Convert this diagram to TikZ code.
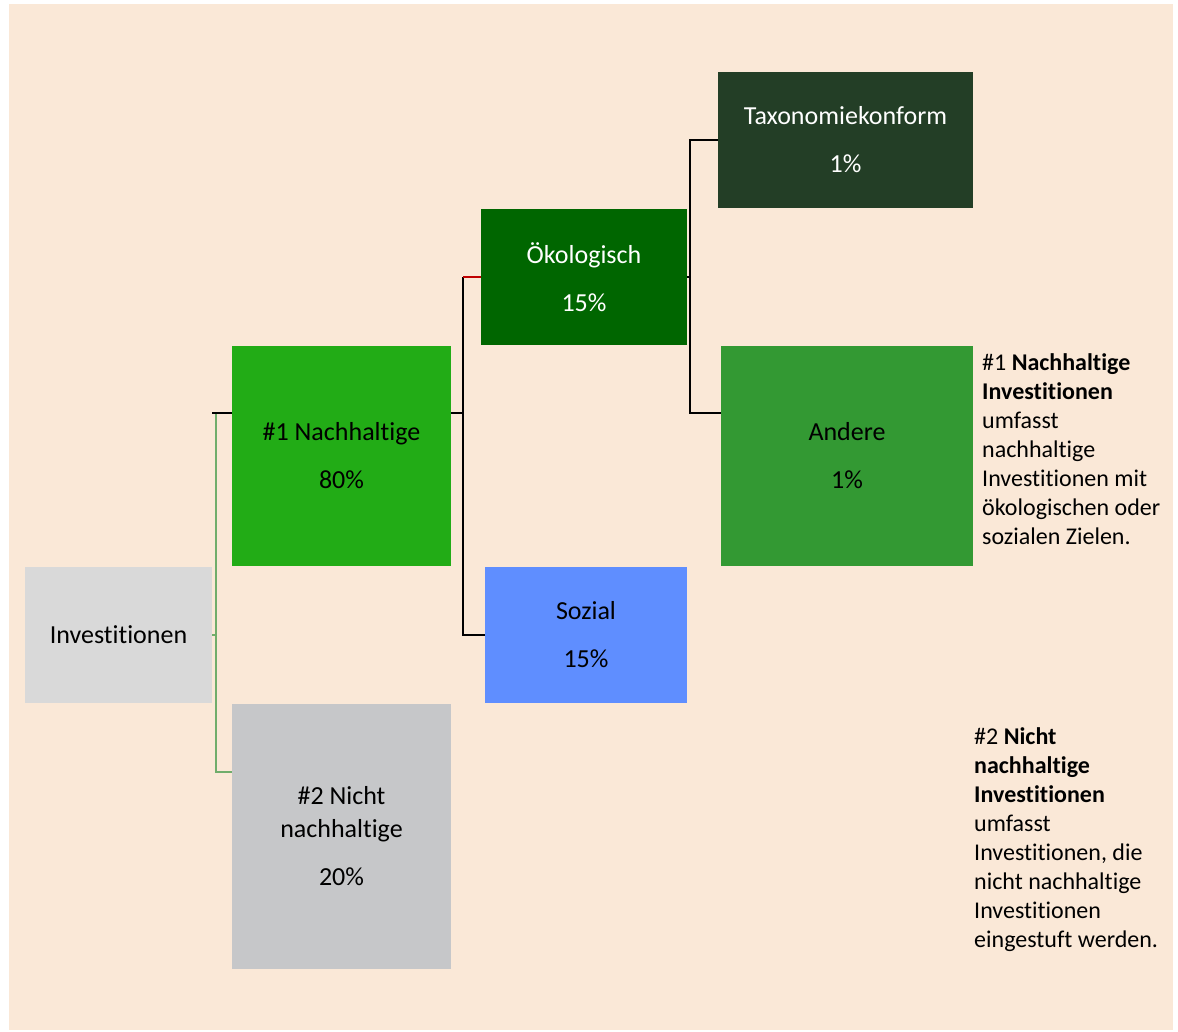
\documentclass[tikz,border=0pt]{standalone}
\usepackage{fontspec}
\setmainfont{Carlito}[Ligatures=NoCommon]
\definecolor{bgbeige}{RGB}{250,232,215}
\definecolor{invgray}{RGB}{217,217,217}
\definecolor{nachgreen}{RGB}{34,172,22}
\definecolor{nichtgray}{RGB}{198,199,201}
\definecolor{oekgreen}{RGB}{0,102,0}
\definecolor{sozblue}{RGB}{95,142,255}
\definecolor{taxgreen}{RGB}{35,62,38}
\definecolor{andgreen}{RGB}{51,153,51}
\definecolor{lnkgreen}{RGB}{112,173,107}
\definecolor{lnkred}{RGB}{192,0,0}

\begin{document}
\begin{tikzpicture}[x=1pt, y=-1pt]
\tikzset{
    BX/.style={inner sep=0pt, align=center, text=black,
               font=\fontsize{26}{33}\selectfont},
    BXW/.style={BX, text=white},
    SIDE/.style={inner sep=0pt, align=left, anchor=north west,
                 font=\fontsize{24}{29}\selectfont},
    BLK/.style={draw=black, line width=2pt},
    GRN/.style={draw=lnkgreen, line width=2pt},
}

% Frame
\useasboundingbox (0,0) rectangle (1178,1031);
\fill[bgbeige] (9,4) rectangle (1173,1030);

% Boxes
\node[BX, fill=invgray, minimum width=187pt, minimum height=136pt]
    (inv) at (118.5, 635) {Investitionen};
\node[BX, fill=nachgreen, minimum width=219pt, minimum height=220pt]
    (nach) at (341.5, 456) {\#1 Nachhaltige\\[15pt]80\%};
\node[BX, fill=nichtgray, minimum width=219pt, minimum height=265pt]
    (nicht) at (341.5, 836.5) {\#2 Nicht\\nachhaltige\\[15pt]20\%};
\node[BXW, fill=oekgreen, minimum width=206pt, minimum height=136pt]
    (oek) at (584, 277) {Ökologisch\\[15pt]15\%};
\node[BX, fill=sozblue, minimum width=202pt, minimum height=136pt]
    (soz) at (586, 635) {Sozial\\[15pt]15\%};
\node[BXW, fill=taxgreen, minimum width=255pt, minimum height=136pt]
    (tax) at (845.5, 140) {Taxonomiekonform\\[15pt]1\%};
\node[BX, fill=andgreen, minimum width=252pt, minimum height=220pt]
    (and) at (847, 456) {Andere\\[15pt]1\%};

% Connector ends on the tall boxes
\coordinate (nachIn)  at ([yshift=-67pt]nach.north west);
\coordinate (nachOut) at ([yshift=-67pt]nach.north east);
\coordinate (nichtIn) at ([yshift=-68pt]nicht.north west);
\coordinate (andIn)   at ([yshift=-67pt]and.north west);

% Connectors
\draw[GRN] (inv.east) -- ++(4,0) coordinate (gsplit) |- (nichtIn);
\draw[GRN] (gsplit) -- (gsplit |- nachIn);
\draw[BLK] ([xshift=-4pt]gsplit |- nachIn) -- (nachIn);

\draw[BLK] (nachOut) -- ++(12,0) coordinate (nsplit) |- (soz.west);
\draw[BLK] (nsplit) -- (nsplit |- oek.west);
\draw[draw=lnkred, line width=2pt] (nsplit |- oek.west) -- (oek.west);

\draw[BLK] (oek.east) -- ++(3,0) coordinate (osplit) |- (tax.west);
\draw[BLK] (osplit) |- (andIn);

% Side notes
\node[SIDE] (note1) at (982, 353)
    {\#1 \textbf{Nachhaltige}\\\textbf{Investitionen}\\umfasst\\nachhaltige\\Investitionen mit\\ökologischen oder\\sozialen Zielen.};
\node[SIDE] (note2) at (974, 727)
    {\#2 \textbf{Nicht}\\\textbf{nachhaltige}\\\textbf{Investitionen}\\umfasst\\Investitionen, die\\nicht nachhaltige\\Investitionen\\eingestuft werden.};

\end{tikzpicture}
\end{document}
